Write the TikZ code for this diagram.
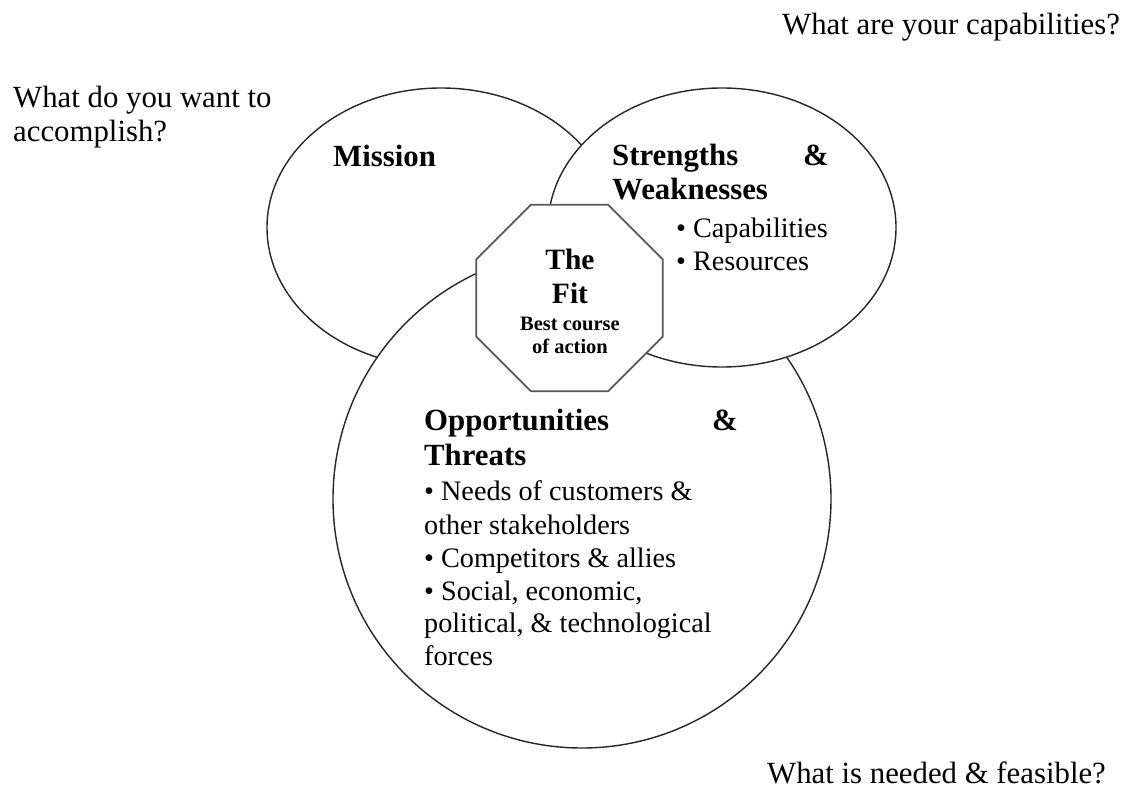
\documentclass[tikz,border=0pt]{standalone}
\usepackage{fontspec}
\setmainfont{Liberation Serif}
\usetikzlibrary{shapes.geometric}
\begin{document}
\begin{tikzpicture}[x=1pt,y=-1pt,
  shapeline/.style={draw=black!85, line width=1.4pt, fill=white, inner sep=0pt},
  oval/.style={shapeline, ellipse, minimum width=348pt, minimum height=279pt},
  big/.style={font=\fontsize{30.8}{35}\selectfont},
  bigb/.style={font=\fontsize{30.8}{35}\selectfont\bfseries},
  fitb/.style={font=\fontsize{29.5}{34}\selectfont\bfseries},
  body/.style={font=\fontsize{28.2}{33}\selectfont},
  smallb/.style={font=\fontsize{20.5}{23}\selectfont\bfseries},
  txt/.style={inner sep=0pt, anchor=base west},
  ctxt/.style={inner sep=0pt, anchor=base},
  rtxt/.style={inner sep=0pt, anchor=base east},
]
\fill[white] (0,0) rectangle (1125,789);
\useasboundingbox (0,0) rectangle (1125,789);

% shapes (drawing order gives the overlaps)
\node[oval] (mission) at (441,227.5) {};
\node[shapeline, circle, minimum size=498pt] (ot) at (582,499) {};
\node[oval] (sw) at (722,227.5) {};
\node[regular polygon, regular polygon sides=8, minimum size=201.8pt, inner sep=0pt,
      draw=black!65, line width=1.8pt, fill=white] (fit) at (569.5,298) {};

% questions
\node[txt, big] (q1a) at (13,108) {What do you want to};
\node[txt, big] (q1b) at (13,142) {accomplish?};
\node[txt, big] (q2) at (782,35) {What are your capabilities?};
\node[txt, big] (q3) at (767,783) {What is needed \& feasible?};

% mission
\node[txt, bigb] (missionlbl) at (333,167) {Mission};

% strengths & weaknesses
\node[txt, bigb] (sw1) at (612,165) {Strengths};
\node[rtxt, bigb] (sw1amp) at (829,165) {\&};
\node[txt, bigb] (sw2) at (612,200) {Weaknesses};
\node[txt, body] (sw3) at (676,237) {• Capabilities};
\node[txt, body] (sw4) at (676,270) {• Resources};

% the fit
\node[ctxt, fitb] (fit1) at (570,269) {The};
\node[ctxt, fitb] (fit2) at (570,303) {Fit};
\node[ctxt, smallb] (fit3) at (570,330) {Best course};
\node[ctxt, smallb] (fit4) at (570,353) {of action};

% opportunities & threats
\node[txt, bigb] (ot1) at (424,430) {Opportunities};
\node[rtxt, bigb] (ot1amp) at (738,430) {\&};
\node[txt, bigb] (ot2) at (424,465) {Threats};
\node[txt, body] (ot3) at (424,500) {• Needs of customers \&};
\node[txt, body] (ot4) at (424,534) {other stakeholders};
\node[txt, body] (ot5) at (424,567) {• Competitors \& allies};
\node[txt, body] (ot6) at (424,600) {• Social, economic,};
\node[txt, body] (ot7) at (424,632) {political, \& technological};
\node[txt, body] (ot8) at (424,665) {forces};
\end{tikzpicture}
\end{document}
